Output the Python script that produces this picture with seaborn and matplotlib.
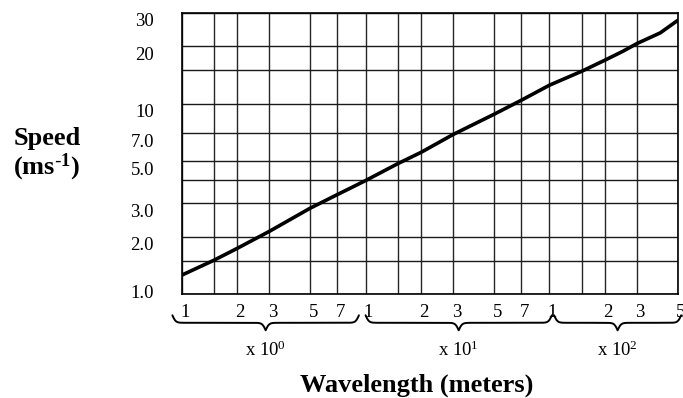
import numpy as np
import matplotlib
matplotlib.use("Agg")
import matplotlib.pyplot as plt
import matplotlib.transforms as mtransforms
from matplotlib.lines import Line2D
import seaborn as sns

# ======================================================
#   data
# ======================================================
wavelength = [1, 1.5, 2, 3, 5, 7, 10, 15, 20, 30, 50, 70,
              100, 150, 200, 250, 300, 400, 500]
speed = [1.26, 1.51, 1.74, 2.14, 2.83, 3.33, 3.95, 4.85, 5.55, 6.9, 8.8, 10.4,
         12.5, 14.8, 16.9, 18.8, 20.7, 23.5, 27.4]

x_grid = [1, 1.5, 2, 3, 5, 7, 10, 15, 20, 30, 50, 70, 100, 150, 200, 300, 500]
x_ticks = [1, 2, 3, 5, 7, 10, 20, 30, 50, 70, 100, 200, 300, 500]
x_ticklabels = ["1", "2", "3", "5", "7", "1", "2", "3", "5", "7", "1", "2", "3", "5"]

y_grid = [1, 1.5, 2, 3, 4, 5, 7, 10, 15, 20, 30]
y_ticks = [1, 2, 3, 5, 7, 10, 20, 30]
y_ticklabels = ["1.0", "2.0", "3.0", "5.0", "7.0", "10", "20", "30"]

decade_lo = [0.89, 10, 106]
decade_hi = [9.2, 103, 520]
decade_labels = ["x 10$^{0}$", "x 10$^{1}$", "x 10$^{2}$"]

# ======================================================
#   theme
# ======================================================
sns.set_theme(style="white")
plt.rcParams["font.family"] = ["Liberation Serif", "DejaVu Serif"]
plt.rcParams["mathtext.default"] = "regular"
plt.rcParams["text.color"] = "black"
plt.rcParams["xtick.color"] = "black"
plt.rcParams["ytick.color"] = "black"

W, H = 683, 398
fig = plt.figure(figsize=(W / 100, H / 100), dpi=100)
fig.patch.set_facecolor("white")
ax = fig.add_axes([181.7 / W, (H - 294.3) / H, (678 - 181.7) / W, (294.3 - 12.7) / H])

ax.set_xscale("log")
ax.set_yscale("log")
ax.set_xlim(1, 500)
ax.set_ylim(1, 30)

# grid
for xv in x_grid:
    ax.axvline(xv, color="0.15", lw=1.0, zorder=1)
for yv in y_grid:
    ax.axhline(yv, color="0.1", lw=1.0, zorder=1)

sns.lineplot(x=wavelength, y=speed, ax=ax, color="black", lw=2.6, zorder=3)

for s in ax.spines.values():
    s.set_color("black")
    s.set_linewidth(1.2)

# ticks
ax.minorticks_off()
ax.set_xticks(x_ticks)
ax.set_xticklabels(x_ticklabels, fontsize=13.5)
ax.set_yticks(y_ticks)
ax.set_yticklabels(y_ticklabels, fontsize=13.5)
ax.tick_params(axis="x", length=0, pad=7)
ax.tick_params(axis="y", length=0, pad=20)

shift_x = mtransforms.ScaledTranslation(3 / 100, 0, fig.dpi_scale_trans)
for lab in ax.get_xticklabels():
    lab.set_transform(lab.get_transform() + shift_x)
for lab in ax.get_yticklabels():
    dy = 3 if lab.get_text() == "1.0" else -7
    lab.set_transform(lab.get_transform() + mtransforms.ScaledTranslation(0, dy / 100, fig.dpi_scale_trans))

ax.set_xlabel("")
ax.set_ylabel("")

# ======================================================
#   curly braces under each decade
# ======================================================
fig.canvas.draw()
y_bottom = ax.transAxes.transform((0, 0))[1]


def brace(x0, x1, y_top, h, beta=0.6):
    xm = (x0 + x1) / 2
    xs = np.linspace(x0, xm, 200)
    yh = 1 / (1 + np.exp(-beta * (xs - xs[0]))) + 1 / (1 + np.exp(-beta * (xs - xs[-1])))
    xx = np.concatenate([xs, 2 * xm - xs[::-1][1:]])
    yy = np.concatenate([yh, yh[::-1][1:]])
    return xx, y_top - (yy - 0.5) * h


for lo, hi, lab in zip(decade_lo, decade_hi, decade_labels):
    x0 = ax.transData.transform((lo, 1))[0]
    x1 = ax.transData.transform((hi, 1))[0]
    bx, by = brace(x0, x1, y_bottom - 21, 15)
    fig.add_artist(Line2D(bx, by, transform=None, color="black", lw=1.4))
    fig.text((x0 + x1) / 2 / W, (y_bottom - 56) / H, lab, ha="center", va="center",
             fontsize=13.5)

# axis titles
fig.text(47 / W, (H - 138) / H, "Speed", ha="center", va="center",
         fontsize=19, fontweight="bold")
fig.text(47 / W, (H - 167) / H, r"(ms$^{\text{-}1}$)", ha="center", va="center",
         fontsize=19, fontweight="bold")
fig.text(416.7 / W, (H - 392) / H, "Wavelength (meters)", ha="center", va="baseline",
         fontsize=19, fontweight="bold")

fig.savefig("out.png", dpi=100, facecolor="white")
plt.close(fig)
